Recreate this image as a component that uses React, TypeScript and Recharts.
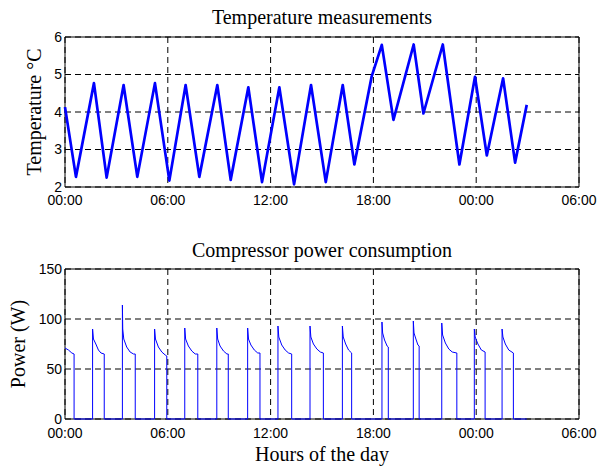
import {
  LineChart,
  Line,
  XAxis,
  YAxis,
  CartesianGrid,
  ReferenceArea,
  Label,
} from "recharts";

// x axis runs in hours from midnight of day one
const xTickHours = [0, 6, 12, 18, 24, 30];
const xTickLabels = ["00:00", "06:00", "12:00", "18:00", "00:00", "06:00"];

const tempTicks = [2, 3, 4, 5, 6];
const powerTicks = [0, 50, 100, 150];

const temperatureHours = [
  0, 0.64, 1.69, 2.43, 3.42, 4.22, 5.25, 6.09, 7.04, 7.84, 8.89, 9.67, 10.7,
  11.5, 12.51, 13.37, 14.36, 15.22, 16.21, 16.89, 17.9, 18.49, 19.17, 20.35,
  20.92, 22.05, 23.02, 23.93, 24.62, 25.57, 26.27, 26.95,
];
const temperatureValues = [
  4.13, 2.27, 4.77, 2.25, 4.72, 2.27, 4.77, 2.17, 4.72, 2.27, 4.72, 2.19, 4.66,
  2.13, 4.66, 2.07, 4.72, 2.13, 4.72, 2.6, 4.95, 5.79, 3.79, 5.8, 3.96, 5.8,
  2.6, 4.94, 2.84, 4.9, 2.65, 4.19,
];

const powerHours = [
  0, 0.2, 0.4, 0.53, 0.53,
  1.61, 1.61, 1.66, 1.8, 1.95, 2.1, 2.29, 2.29,
  3.35, 3.35, 3.37, 3.43, 3.6, 3.8, 4.0, 4.1, 4.1,
  5.23, 5.23, 5.28, 5.45, 5.65, 5.85, 5.94, 5.94,
  6.99, 6.99, 7.04, 7.2, 7.4, 7.6, 7.75, 7.75,
  8.86, 8.86, 8.91, 9.05, 9.25, 9.45, 9.53, 9.53,
  10.66, 10.66, 10.71, 10.85, 11.05, 11.25, 11.38, 11.38,
  12.43, 12.43, 12.48, 12.65, 12.85, 13.05, 13.23, 13.23,
  14.3, 14.3, 14.35, 14.5, 14.7, 14.9, 15.08, 15.08,
  16.19, 16.19, 16.24, 16.38, 16.55, 16.73, 16.73,
  18.5, 18.5, 18.54, 18.65, 18.8, 18.87, 18.87,
  20.33, 20.33, 20.37, 20.5, 20.6, 20.67, 20.67,
  21.99, 21.99, 22.04, 22.2, 22.4, 22.6, 22.87, 22.87,
  23.89, 23.89, 23.94, 24.1, 24.3, 24.52, 24.52,
  25.51, 25.51, 25.56, 25.7, 25.9, 26.17, 26.17,
  26.95,
];
const powerWatts = [
  71, 69, 66, 65, 0,
  0, 90, 80, 75, 69, 66, 65, 0,
  0, 114, 90, 80, 72, 67, 65, 65, 0,
  0, 90, 80, 72, 67, 64, 63, 0,
  0, 91, 80, 73, 68, 65, 65, 0,
  0, 91, 80, 73, 68, 65, 65, 0,
  0, 91, 80, 74, 69, 66, 66, 0,
  0, 93, 82, 74, 69, 66, 65, 0,
  0, 93, 82, 75, 70, 67, 66, 0,
  0, 93, 82, 75, 69, 66, 0,
  0, 97, 86, 79, 73, 72, 0,
  0, 98, 86, 79, 74, 73, 0,
  0, 96, 84, 76, 70, 67, 66, 0,
  0, 90, 82, 75, 69, 67, 0,
  0, 90, 82, 75, 69, 66, 0,
  0,
];

const tempData = temperatureHours.map((h, i) => ({
  hour: h,
  temp: temperatureValues[i],
}));
const powerData = powerHours.map((h, i) => ({ hour: h, power: powerWatts[i] }));

const serif = "'Liberation Serif', 'Times New Roman', serif";
const sans = "'Liberation Sans', Arial, sans-serif";
const tickStyle = { fill: "#000", fontSize: 14, fontFamily: sans };

const fmtHour = (v: number) => xTickLabels[xTickHours.indexOf(v)] ?? "";

const titleStyle = (top: number): React.CSSProperties => ({
  position: "absolute",
  top,
  left: 65,
  width: 514,
  textAlign: "center",
  fontFamily: serif,
  fontSize: 20,
  lineHeight: "20px",
  color: "#000",
});

const App = () => {
  return (
    <div
      style={{
        position: "absolute",
        left: 0,
        top: 0,
        width: 600,
        height: 468,
        background: "#fff",
      }}
    >
      <div style={titleStyle(7)}>Temperature measurements</div>
      <div style={titleStyle(240)}>Compressor power consumption</div>

      <div style={{ position: "absolute", left: 0, top: 0 }}>
        <LineChart
          width={600}
          height={234}
          data={tempData}
          margin={{ top: 37, right: 21, left: 0, bottom: 17 }}
        >
          <CartesianGrid stroke="#000" strokeDasharray="6 4" />
          <XAxis
            dataKey="hour"
            type="number"
            domain={[0, 30]}
            ticks={xTickHours}
            tickFormatter={fmtHour}
            interval={0}
            height={30}
            axisLine={false}
            tickLine={false}
            tickSize={0}
            tickMargin={8}
            tick={tickStyle}
          />
          <YAxis
            type="number"
            domain={[2, 6]}
            ticks={tempTicks}
            interval={0}
            width={65}
            axisLine={false}
            tickLine={false}
            tickSize={0}
            tickMargin={3}
            tick={tickStyle}
          >
            <Label
              value="Temperature °C"
              angle={-90}
              position="insideLeft"
              offset={34}
              style={{
                textAnchor: "middle",
                fontFamily: serif,
                fontSize: 20,
                fill: "#000",
              }}
            />
          </YAxis>
          <ReferenceArea
            x1={0}
            x2={30}
            y1={2}
            y2={6}
            fill="none"
            stroke="#000"
            strokeWidth={1}
          />
          <Line
            type="linear"
            dataKey="temp"
            stroke="#0000ff"
            strokeWidth={2.7}
            strokeLinejoin="round"
            dot={false}
            isAnimationActive={false}
          />
        </LineChart>
      </div>

      <div style={{ position: "absolute", left: 0, top: 234 }}>
        <LineChart
          width={600}
          height={234}
          data={powerData}
          margin={{ top: 35, right: 21, left: 0, bottom: 5 }}
        >
          <CartesianGrid stroke="#000" strokeDasharray="6 4" />
          <XAxis
            dataKey="hour"
            type="number"
            domain={[0, 30]}
            ticks={xTickHours}
            tickFormatter={fmtHour}
            interval={0}
            height={44}
            axisLine={false}
            tickLine={false}
            tickSize={0}
            tickMargin={9}
            tick={tickStyle}
          >
            <Label
              value="Hours of the day"
              position="insideBottom"
              offset={2}
              style={{ fontFamily: serif, fontSize: 20, fill: "#000" }}
            />
          </XAxis>
          <YAxis
            type="number"
            domain={[0, 150]}
            ticks={powerTicks}
            interval={0}
            width={65}
            axisLine={false}
            tickLine={false}
            tickSize={0}
            tickMargin={3}
            tick={tickStyle}
          >
            <Label
              value="Power (W)"
              angle={-90}
              position="insideLeft"
              offset={18}
              style={{
                textAnchor: "middle",
                fontFamily: serif,
                fontSize: 20,
                fill: "#000",
              }}
            />
          </YAxis>
          <ReferenceArea
            x1={0}
            x2={30}
            y1={0}
            y2={150}
            fill="none"
            stroke="#000"
            strokeWidth={1}
          />
          <Line
            type="linear"
            dataKey="power"
            stroke="#0000ff"
            strokeWidth={1}
            dot={false}
            isAnimationActive={false}
          />
        </LineChart>
      </div>
    </div>
  );
};

export default App;
